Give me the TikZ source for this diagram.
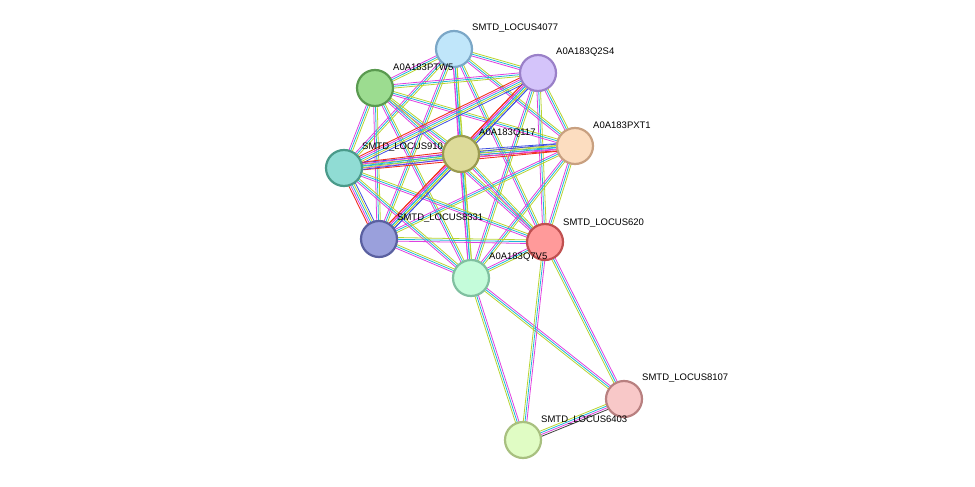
\documentclass[tikz,border=0pt]{standalone}
\usepackage{fontspec}
\setmainfont{Liberation Sans}
\usetikzlibrary{calc}
\definecolor{mg}{HTML}{E040E0}
\definecolor{cy}{HTML}{20B8D8}
\definecolor{yg}{HTML}{B8D430}
\definecolor{rd}{HTML}{F03020}
\definecolor{bu}{HTML}{4050E0}
\definecolor{bk}{HTML}{404040}
\definecolor{dA}{HTML}{7BA7C7}\definecolor{fA}{HTML}{C0E6FA}
\definecolor{dB}{HTML}{9A80C8}\definecolor{fB}{HTML}{D4C4FA}
\definecolor{dG}{HTML}{5A9A50}\definecolor{fG}{HTML}{9CDC90}
\definecolor{dX}{HTML}{C8A080}\definecolor{fX}{HTML}{FCDDC0}
\definecolor{dQ}{HTML}{9A9A50}\definecolor{fQ}{HTML}{DDDB9A}
\definecolor{dT}{HTML}{4A9A8A}\definecolor{fT}{HTML}{90DCD4}
\definecolor{dE}{HTML}{5A60A0}\definecolor{fE}{HTML}{9AA0DC}
\definecolor{dR}{HTML}{C05050}\definecolor{fR}{HTML}{FF9A9A}
\definecolor{dV}{HTML}{80C0A0}\definecolor{fV}{HTML}{C4FCDA}
\definecolor{dS}{HTML}{B88080}\definecolor{fS}{HTML}{F8C8C8}
\definecolor{dW}{HTML}{A8C080}\definecolor{fW}{HTML}{E0FCC4}
\tikzset{
 mg/.style={draw=mg,line width=0.8pt},
 cy/.style={draw=cy,line width=0.8pt},
 yg/.style={draw=yg,line width=0.8pt},
 rd/.style={draw=rd,line width=0.9pt},
 bu/.style={draw=bu,line width=0.8pt},
 bk/.style={draw=bk,line width=0.8pt},
 prot/.style={circle,minimum size=36pt,inner sep=0pt,line width=2.2pt,draw=d#1,fill=f#1},
 lab/.style={anchor=west,font=\fontsize{9.5}{10}\selectfont,inner sep=0pt}
}
\def\std{mg/-1.8,cy/0,yg/1.8}
\def\red{rd/-3.6,mg/-1.8,cy/0,yg/1.8,bu/3.6}
\def\blk{bk/-3.6,mg/-1.8,cy/0,yg/1.8}
\newcommand\lk[3]{\foreach \cc/\oo in #3 {\draw[\cc] ($(#1)!\oo pt!90:(#2)$) -- ($(#2)!\oo pt!-90:(#1)$);}}
\begin{document}
\begin{tikzpicture}[x=1pt,y=-1pt]
\useasboundingbox (0,0) rectangle (975,487);
\coordinate (A) at (454,49);
\coordinate (B) at (538,73);
\coordinate (G) at (375,88);
\coordinate (X) at (575,146);
\coordinate (Q) at (461,154);
\coordinate (T) at (344,168);
\coordinate (E) at (379,239);
\coordinate (R) at (545,242);
\coordinate (V) at (471,278);
\coordinate (S) at (624,399);
\coordinate (W) at (523,440);
% edges
\foreach \a/\b in {A/B,A/G,A/X,A/Q,A/T,A/E,A/R,A/V,B/G,B/X,B/R,B/V,G/X,G/Q,G/T,G/E,G/R,G/V,X/E,X/R,X/V,Q/R,Q/V,T/R,T/V,E/R,E/V,R/V,S/R,S/V,W/V,W/R}{\lk{\a}{\b}{\std}}
\foreach \a/\b in {B/Q,B/E,B/T,Q/E,Q/X,T/X,T/E,Q/T}{\lk{\a}{\b}{\red}}
\lk{W}{S}{\blk}
% nodes
\foreach \n in {A,B,G,X,Q,T,E,R,V,S,W}{\node[prot=\n] (n\n) at (\n) {};}
% labels
\node[lab] (lA) at ($(A)+(18,-21)$) {SMTD\_LOCUS4077};
\node[lab] (lB) at ($(B)+(18,-21)$) {A0A183Q2S4};
\node[lab] (lG) at ($(G)+(18,-21)$) {A0A183PTW5};
\node[lab] (lX) at ($(X)+(18,-21)$) {A0A183PXT1};
\node[lab] (lQ) at ($(Q)+(18,-21)$) {A0A183Q117};
\node[lab] (lT) at ($(T)+(18,-21)$) {SMTD\_LOCUS910};
\node[lab] (lE) at ($(E)+(18,-21)$) {SMTD\_LOCUS8331};
\node[lab] (lR) at ($(R)+(18,-19)$) {SMTD\_LOCUS620};
\node[lab] (lV) at ($(V)+(18,-21)$) {A0A183Q7V5};
\node[lab] (lS) at ($(S)+(18,-21)$) {SMTD\_LOCUS8107};
\node[lab] (lW) at ($(W)+(18,-20)$) {SMTD\_LOCUS6403};
\end{tikzpicture}
\end{document}
